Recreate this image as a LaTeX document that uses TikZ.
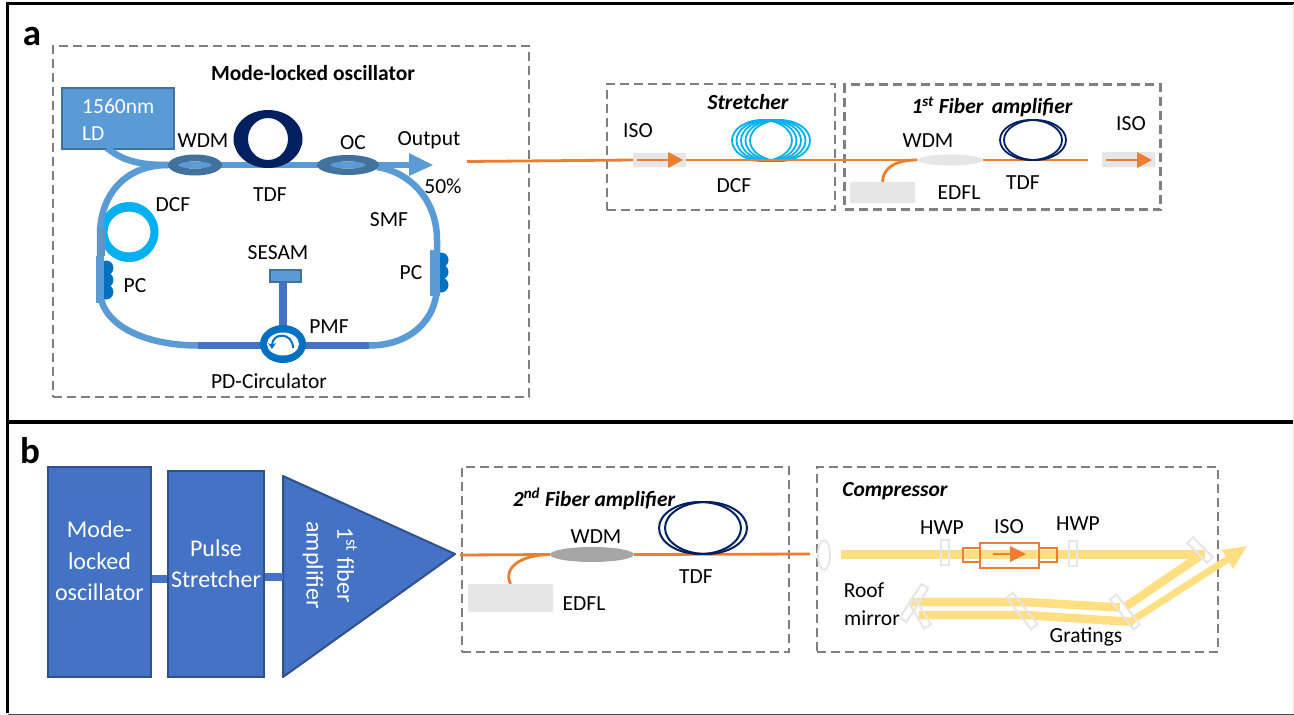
\documentclass[tikz,border=0pt]{standalone}
\usepackage{fontspec}
\setmainfont{Carlito}
\usetikzlibrary{arrows.meta,shapes.geometric}
\definecolor{lblue}{HTML}{5B9BD5}
\definecolor{sblue}{HTML}{41719C}
\definecolor{mblue}{HTML}{4472C4}
\definecolor{dblue}{HTML}{2F528F}
\definecolor{pcblue}{HTML}{0070C0}
\definecolor{cyanf}{HTML}{00B0F0}
\definecolor{navyf}{HTML}{002060}
\definecolor{orangef}{HTML}{ED7D31}
\definecolor{lgray}{HTML}{E7E6E6}
\definecolor{mgray}{HTML}{A6A6A6}
\definecolor{beamc}{HTML}{FFDF82}
\definecolor{dashc}{HTML}{7F7F7F}
\newcommand{\fsz}[1]{\fontsize{#1}{#1}\selectfont}
\tikzset{
 x=1pt,y=-1pt,
 lab/.style={inner sep=0pt,font=\fsz{21.5},text=black},
 tit/.style={inner sep=0pt,font=\fsz{21.5}\bfseries\itshape,text=black},
 wlab/.style={inner sep=0pt,font=\fsz{24},text=white},
 dbox/.style={draw=dashc,line width=2.4pt,dash pattern=on 9pt off 5pt,inner sep=0pt},
 fib/.style={draw=lblue,line width=6.5pt},
 pmf/.style={draw=mblue,line width=7.5pt},
 ofib/.style={draw=orangef,line width=2.8pt},
 beam/.style={draw=beamc,line width=8.5pt},
 graybox/.style={fill=lgray,inner sep=0pt,rounded corners=1pt},
 optic/.style={draw=lgray,line width=2pt,inner sep=0pt,minimum width=#1,minimum height=8pt},
 solid box/.style={fill=mblue,draw=dblue,line width=2pt,inner sep=0pt},
 coupler/.style={fill=sblue,even odd rule},
 pcdot/.style={circle,fill=pcblue,minimum size=15pt,inner sep=0pt},
}
\begin{document}
\begin{tikzpicture}
\useasboundingbox (0,0) rectangle (1294,715);
\fill[white] (0,0) rectangle (1294,715);
% frames
\draw[line width=3pt] (1294,3) -- (7.5,3) -- (7.5,713);
\draw[line width=4pt] (7.5,422) -- (1294,422);
\draw[line width=1pt,black!70] (7.5,714) -- (1294,714);
\draw[line width=1pt,lgray] (1293.5,4) -- (1293.5,714);
\node[inner sep=0pt,font=\fsz{37}\bfseries] (pa) at (32,36) {a};
\node[inner sep=0pt,font=\fsz{37}\bfseries] (pb) at (30,451) {b};
% dashed boxes
\node[dbox,minimum width=476pt,minimum height=351pt] (osc) at (291,221.5) {};
\node[dbox,minimum width=228pt,minimum height=126pt] (str) at (721,147) {};
\node[dbox,minimum width=316pt,minimum height=125pt] (amp1) at (1002.5,147) {};
\node[dbox,minimum width=327pt,minimum height=185pt] (amp2) at (625.5,559.5) {};
\node[dbox,minimum width=401pt,minimum height=185pt] (comp) at (1017.5,559.5) {};
% oscillator
\coordinate (wdmL) at (168,165);
\coordinate (oc) at (348,165);
\coordinate (wdmc) at (195,165);
\coordinate (arrowbase) at (410,165);
\node[draw=sblue,fill=lblue,line width=2pt,minimum width=112pt,minimum height=61pt,inner sep=0pt] (ld) at (118,118) {};
\node[inner sep=0pt,font=\fsz{21.5},text=white,anchor=west] (ldt1) at (82,106) {1560nm};
\node[inner sep=0pt,font=\fsz{21.5},text=white,anchor=west] (ldt2) at (82,134) {LD};
% DCF coil
\path[fill=cyanf,even odd rule] (129,232) ellipse [x radius=29.5,y radius=30] (129,232) ellipse [x radius=21.5,y radius=20.5];
% fibre loop
\coordinate (ldout) at (107,148);
\draw[fib] (ldout) .. controls (122,160) and (137,165) .. (wdmL);
\draw[fib] (wdmL) -- (oc);
\draw[fib] (oc) -- (arrowbase);
\fill[lblue] (409,153) -- (433,165) -- (409,176) -- cycle;
\coordinate (cL) at (198,345.5);
\coordinate (cR) at (369,345.5);
\draw[fib] (wdmL) .. controls (125,165) and (100,195) .. (100,235) -- (100,290) .. controls (100,325) and (145,345.5) .. (cL);
\draw[fib] (cR) .. controls (410,345.5) and (437,320) .. (437,285) -- (437,240) .. controls (437,200) and (410,172) .. (377,167);
% PCs
\foreach \y in {268,280,292} \node[pcdot] at (106,\y) {};
\foreach \y in {260,272,285} \node[pcdot] at (441,\y) {};
\fill[lblue] (95.5,256) rectangle (104,303);
\fill[lblue!80!gray] (97,228) rectangle (105,256);
\fill[lblue] (430,250) rectangle (440,296);
% PMF
\node[draw=sblue,fill=lblue,line width=2pt,minimum width=31pt,minimum height=12pt,inner sep=0pt] (sesam) at (285,275.5) {};
\coordinate (circ) at (283,345.5);
\draw[pmf] (cL) -- (circ);
\draw[pmf] (circ) -- (cR);
\draw[pmf] (sesam.south -| circ) -- (circ);
\fill[pcblue] (283,344) ellipse [x radius=23,y radius=19];
\fill[white] (283,344) ellipse [x radius=16,y radius=11.5];
\draw[pcblue,line width=2pt,-{Stealth[length=6pt,width=8pt]}] (293,348) .. controls (293,332) and (272,332) .. (272,349);
% couplers
\path[coupler] (wdmc) ellipse [x radius=27,y radius=10.5] (wdmc) ellipse [x radius=17,y radius=3.5];
\path[coupler] (oc) ellipse [x radius=31,y radius=10] (oc) ellipse [x radius=18,y radius=3.5];
\path[fill=navyf,even odd rule] (268,139) ellipse [x radius=34.5,y radius=29] (268,139) ellipse [x radius=20,y radius=21];
% oscillator labels
\node[inner sep=0pt,font=\fsz{21.5}\bfseries] (osct) at (313,73) {Mode-locked oscillator};
\node[lab] at (203,141) {WDM};
\node[lab] at (270,195) {TDF};
\node[lab] at (173,205) {DCF};
\node[lab] at (135,286) {PC};
\node[lab] at (278,253) {SESAM};
\node[lab] at (329,327) {PMF};
\node[lab] at (269,381) {PD-Circulator};
\node[lab] at (411,273) {PC};
\node[lab] at (389,220) {SMF};
\node[lab] at (353,143) {OC};
\node[lab] at (429,140) {Output};
\node[lab] at (443,186) {50\%};
% stretcher line
\node[graybox,minimum width=53pt,minimum height=14pt] (iso1) at (659.5,160) {};
\coordinate (in1) at (467,161.5);
\draw[ofib] (in1) -- (iso1.west);
\draw[ofib] (637,160) -- (670,160);
\fill[orangef] (668,152) -- (683,160) -- (668,168) -- cycle;
\foreach \d in {-9,-4.5,0,4.5,9}
  \draw[cyanf,line width=1.8pt] (771+\d,140.5) ellipse [x radius=30,y radius=20.5];
\node[graybox,minimum width=65pt,minimum height=21pt] (pump1) at (882.5,192.5) {};
\node[fill=lgray,inner sep=0pt,minimum width=65pt,minimum height=11pt,ellipse] (wdm1) at (950,160) {};
\coordinate (end1) at (1088,160);
\draw[ofib] (iso1.east) -- (wdm1.west);
\draw[ofib] (wdm1.east) -- (end1);
\draw[ofib] (pump1.north) .. controls (883,168) and (895,160) .. (wdm1.west);
\foreach \d in {-2,2}
  \draw[navyf,line width=1.8pt] (1033+\d,140) ellipse [x radius=31,y radius=20];
\node[graybox,minimum width=53pt,minimum height=15pt] (iso2) at (1128.5,159.5) {};
\draw[ofib] (1106,160) -- (1139,160);
\fill[orangef] (1137,152) -- (1152,160) -- (1137,168) -- cycle;
\node[tit] at (748,102) {Stretcher};
\node[lab] at (638,131) {ISO};
\node[lab] at (734,186) {DCF};
\node[tit] at (992,107) {1\textsuperscript{st} Fiber\, amplifier};
\node[lab] at (928,141) {WDM};
\node[lab] at (1023,183) {TDF};
\node[lab] at (959,193) {EDFL};
\node[lab] at (1131,124) {ISO};
% panel b
\node[solid box,minimum width=103pt,minimum height=210pt] (mo) at (99.5,572) {};
\node[solid box,minimum width=96pt,minimum height=206pt] (ps) at (216,574) {};
\node[wlab] at (99.5,529) {Mode-};
\node[wlab] at (99.5,561) {locked};
\node[wlab] at (99.5,592) {oscillator};
\node[wlab] at (216,548) {Pulse};
\node[wlab] at (216,579) {Stretcher};
\coordinate (triL) at (283,577);
\filldraw[fill=mblue,draw=dblue,line width=2pt,line join=round] (283,476) -- (455,554) -- (283,677) -- cycle;
\draw[mblue,line width=8pt] (mo.east |- 0,579) -- (ps.west |- 0,579);
\draw[mblue,line width=8pt] (ps.east |- triL) -- (triL);
\node[wlab,rotate=-90] at (347,565) {1\textsuperscript{st} fiber};
\node[wlab,rotate=-90] at (313,565) {amplifier};
% second amp
\node[graybox,minimum width=85pt,minimum height=28pt] (pump2) at (510.5,598) {};
\node[fill=mgray,ellipse,minimum width=84pt,minimum height=15pt,inner sep=0pt] (wdm2) at (592,554.5) {};
\coordinate (out2) at (810,554);
\coordinate (in2) at (460,555);
\draw[ofib] (in2) -- (wdm2.west);
\draw[ofib] (wdm2.east) -- (out2);
\draw[ofib] (pump2.north) .. controls (503,568) and (520,555) .. (wdm2.west);
\foreach \d in {-3,3}
  \draw[navyf,line width=2pt] (703+\d,528) ellipse [x radius=41,y radius=26];
\node[tit] at (594,499) {2\textsuperscript{nd} Fiber amplifier};
\node[lab] at (596,537) {WDM};
\node[lab] at (696,577) {TDF};
\node[lab] at (584,604) {EDFL};
% compressor
\node[tit] at (895,491) {Compressor};
\coordinate (b0) at (841,554.5);
\coordinate (g1) at (1205,554.5);
\coordinate (g2) at (1125,607);
\coordinate (g3) at (1025,602);
\coordinate (r1) at (910,602);
\coordinate (r2) at (919,615);
\coordinate (g3b) at (1025,615);
\coordinate (g2b) at (1133,622);
\coordinate (tipbase) at (1228,559);
\draw[beam] (b0) -- (g1);
\draw[beam] (1200,556) -- (g2);
\draw[beam] (1120,607.5) -- (g3) -- (r1);
\draw[beam] (r2) -- (g3b) -- (g2b);
\draw[draw=beamc,line width=7pt] (1128,623) -- (tipbase);
\fill[beamc] (1222,550) -- (1247,546) -- (1233,569) -- cycle;
\fill[white] (824,555) ellipse [x radius=6,y radius=15];
\draw[lgray,line width=2pt] (824,555) ellipse [x radius=6,y radius=15];
\node[optic=25pt,rotate=90] (hwp1) at (945,552) {};
\node[optic=25pt,rotate=90] (hwp2) at (1073,553) {};
\node[optic=28pt,rotate=-45] (gr1) at (1200,550) {};
\node[optic=38pt,rotate=-52] (gr2) at (1125,612) {};
\node[optic=40pt,rotate=-52] (gr3) at (1022,611) {};
\node[optic=40pt,rotate=57] (rm1) at (914,603) {};
\node[optic=29pt,rotate=-59] (rm2) at (920,614) {};
\node[draw=orangef,line width=2.5pt,minimum width=59pt,minimum height=25pt,inner sep=0pt] (isoc) at (1009.5,555.5) {};
\node[draw=orangef,line width=2.5pt,minimum width=17pt,minimum height=14pt,inner sep=0pt] (isoL) at (971.5,555) {};
\node[draw=orangef,line width=2.5pt,minimum width=18pt,minimum height=14pt,inner sep=0pt] (isoR) at (1048,555) {};
\draw[ofib] (993,554) -- (1012,554);
\fill[orangef] (1010,546) -- (1026,554) -- (1010,562) -- cycle;
\node[lab] at (942,528) {HWP};
\node[lab] at (1009,527) {ISO};
\node[lab] at (1078,524) {HWP};
\node[lab] at (864,590) {Roof};
\node[lab] at (872,618) {mirror};
\node[lab] at (1086,637) {Gratings};
\end{tikzpicture}
\end{document}
